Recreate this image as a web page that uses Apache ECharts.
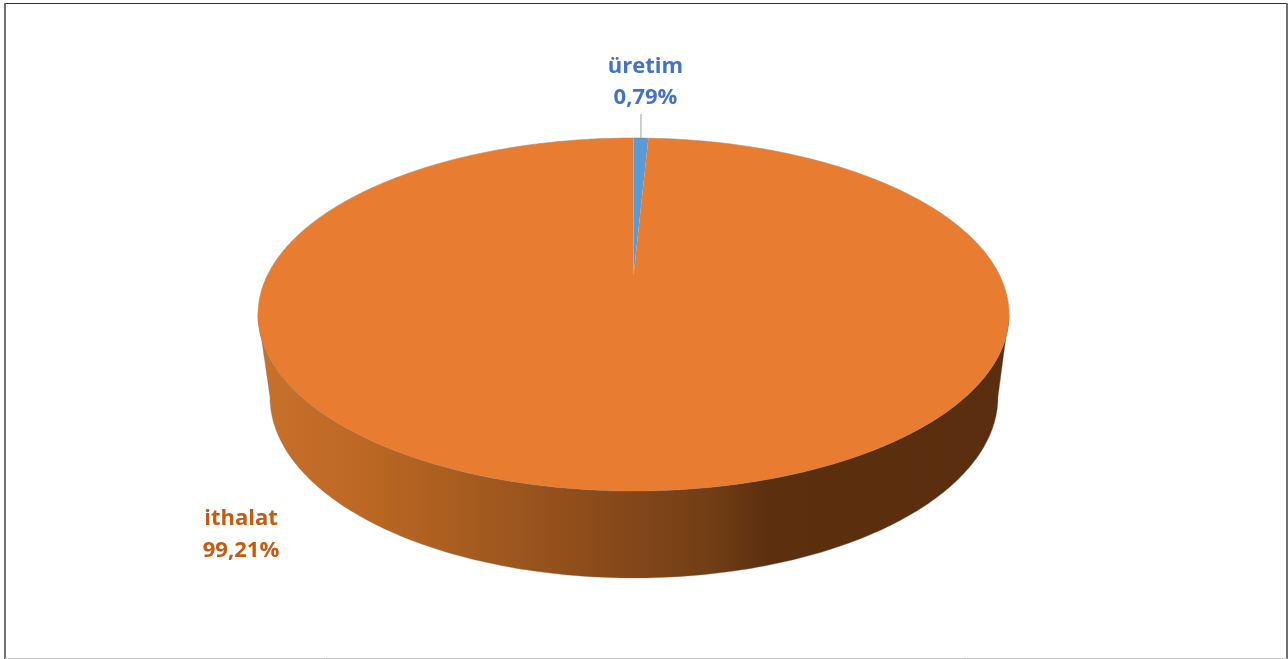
<!DOCTYPE html>
<html><head><meta charset="utf-8">
<style>html,body{margin:0;padding:0;background:#fff}#c{width:1288px;height:659px}</style>
<script src="https://cdn.jsdelivr.net/npm/echarts@6/dist/echarts.min.js"></script>
</head><body><div id="c"></div>
<script>
const categories = ['üretim', 'ithalat'];
const values = [0.79, 99.21];
const sliceColors = ['#5B9BD5', '#E87C30'];
const labelColors = ['#4472C4', '#C55A11'];
const labelAnchors = [[645.5, 67, 98], [241, 519, 551]];

const top_ = {cx: 633.5, cy: 314.5, rx: 375.5, ry: 176.5};
const bottom_ = {cx: 634, cy: 397, rx: 364, ry: 181};
const tilt = -0.22; // perspective shift of the pie centre on the top face
const total = values.reduce((a, b) => a + b, 0);
const fmt = v => v.toFixed(2).replace('.', ',') + '%';

// circle angle (clockwise from 12 o'clock) to a point on the perspective top face
function facePoint(deg, r) {
  const a = deg * Math.PI / 180;
  const x = r * Math.sin(a), y = -r * Math.cos(a);
  const d = 1 + tilt * y;
  return [top_.cx + top_.rx * x * Math.sqrt(1 - tilt * tilt) / d,
          top_.cy + top_.ry * (y + tilt) / d];
}
function arc(e, from, to, n) {
  const p = [];
  for (let i = 0; i <= n; i++) {
    const t = (from + (to - from) * i / n) * Math.PI / 180;
    p.push([e.cx + e.rx * Math.cos(t), e.cy + e.ry * Math.sin(t)]);
  }
  return p;
}
const chart = echarts.init(document.getElementById('c'), null, {renderer: 'canvas'});
function render(params, api) {
  const i = params.dataIndex;
  const pct = api.value(1);
  let before = 0;
  for (let k = 0; k < i; k++) before += values[k];
  const start = before / total * 360, end = (before + pct) / total * 360;
  const children = [];
  const px = p => api.coord(p);
  if (i === 1) {
    const wall = arc(top_, 0, 180, 180).concat(arc(bottom_, 180, 0, 180)).map(px);
    children.push({type: 'polygon', shape: {points: wall}, style: {
      fill: new echarts.graphic.LinearGradient(0, 0, 1, 0, [
        {offset: 0, color: '#C8712B'},
        {offset: 0.16, color: '#BA6623'},
        {offset: 0.32, color: '#A0581E'},
        {offset: 0.46, color: '#8A4A1A'},
        {offset: 0.60, color: '#723E15'},
        {offset: 0.68, color: '#5C2F0E'},
        {offset: 1, color: '#5A2E0E'}
      ]), stroke: 'rgba(120,120,120,0.35)', lineWidth: 1}});
    children.push({type: 'polygon', shape: {points: arc(top_, 0, 360, 360).map(px)},
      style: {fill: 'none', stroke: 'rgba(120,120,120,0.45)', lineWidth: 1}});
  }
  const pts = [px(facePoint(0, 0))];
  const steps = Math.max(2, Math.ceil(end - start));
  for (let s = 0; s <= steps; s++) pts.push(px(facePoint(start + (end - start) * s / steps, 1)));
  children.push({type: 'polygon', shape: {points: pts}, style: {fill: sliceColors[i]}});
  const a = labelAnchors[i];
  if (i === 0) {
    const m = px(facePoint((start + end) / 2, 1));
    children.push({type: 'line', shape: {x1: m[0], y1: m[1], x2: m[0], y2: px([0, 114])[1]},
      style: {stroke: '#BFBFBF', lineWidth: 1.5}});
  }
  [categories[i], fmt(pct)].forEach((t, k) => {
    const q = px([a[0], a[k + 1]]);
    children.push({type: 'text', x: q[0], y: q[1], style: {text: t, fill: labelColors[i],
      font: 'bold 22px "Open Sans"', align: 'center', verticalAlign: 'middle'}});
  });
  return {type: 'group', children};
}
chart.setOption({
  animation: false,
  backgroundColor: '#fff',
  grid: {left: 0, right: 0, top: 0, bottom: 0},
  xAxis: {type: 'value', min: 0, max: 1288, show: false},
  yAxis: {type: 'value', min: 0, max: 659, inverse: true, show: false},
  series: [{type: 'custom', coordinateSystem: 'cartesian2d', renderItem: render,
    clip: false, encode: {x: 0, y: 1},
    data: categories.map((c, i) => [i, values[i]])}],
  graphic: [
    {type: 'line', silent: true, shape: {x1: 5, y1: 3.5, x2: 1287, y2: 3.5}, style: {stroke: '#333', lineWidth: 1.2}},
    {type: 'line', silent: true, shape: {x1: 5, y1: 3, x2: 5, y2: 659}, style: {stroke: '#707070', lineWidth: 2}},
    {type: 'line', silent: true, shape: {x1: 1287, y1: 3, x2: 1287, y2: 659}, style: {stroke: '#707070', lineWidth: 2}},
    {type: 'line', silent: true, shape: {x1: 5, y1: 658.5, x2: 1287, y2: 658.5}, style: {stroke: '#C8C8C8', lineWidth: 1}}
  ]
});
</script></body></html>
